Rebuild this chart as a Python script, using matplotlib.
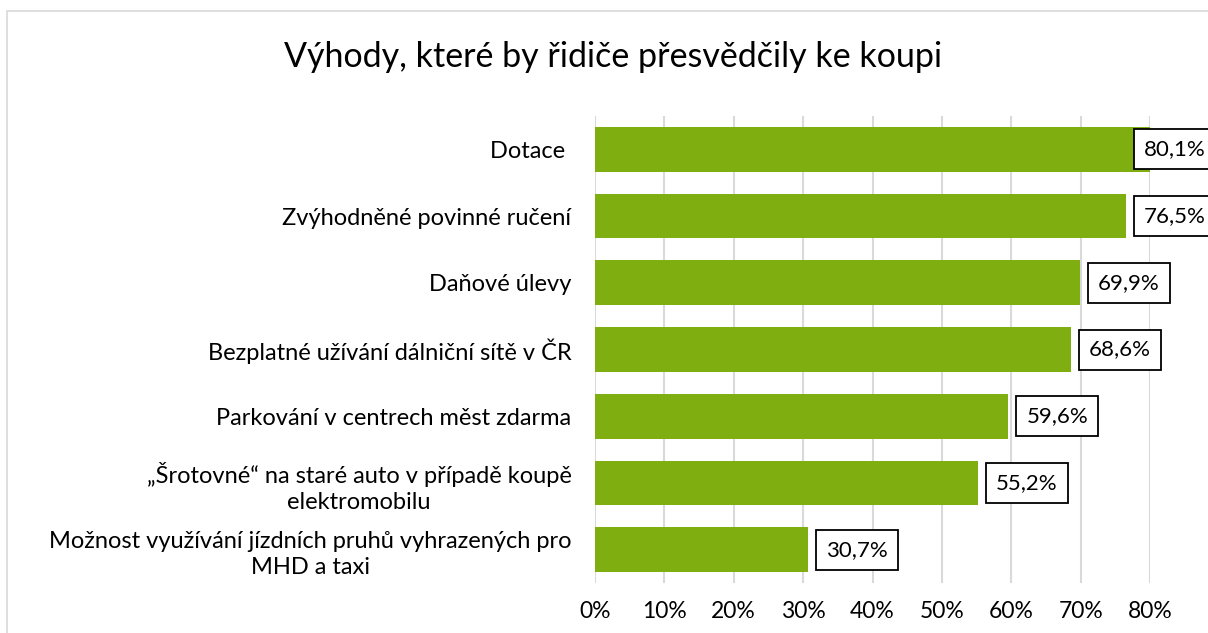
import matplotlib
matplotlib.use("Agg")
import matplotlib.pyplot as plt
from matplotlib.patches import Rectangle

plt.rcParams['font.family'] = ['Lato', 'DejaVu Sans']

# data
categories = [
    "Dotace ",
    "Zvýhodněné povinné ručení",
    "Daňové úlevy",
    "Bezplatné užívání dálniční sítě v ČR",
    "Parkování v centrech měst zdarma",
    "„Šrotovné“ na staré auto v případě koupě\nelektromobilu",
    "Možnost využívání jízdních pruhů vyhrazených pro\nMHD a taxi",
]
values = [80.1, 76.5, 69.9, 68.6, 59.6, 55.2, 30.7]
labels = ["80,1%", "76,5%", "69,9%", "68,6%", "59,6%", "55,2%", "30,7%"]
xticks = [0, 10, 20, 30, 40, 50, 60, 70, 80]
xticklabels = [f"{t}%" for t in xticks]

W, H = 1208, 633
fig = plt.figure(figsize=(W / 100, H / 100), dpi=100)

# chart frame (only left/top visible in the crop)
fig.patches.append(Rectangle((7 / W, -0.1), 1.2, (H - 11) / H + 0.1, transform=fig.transFigure,
                             fill=False, edgecolor='#d9d9d9', lw=1.2))

ax = fig.add_axes([595 / W, 1 - 583 / H, (1150 - 595) / W, (583 - 116) / H])
ypos = list(range(len(categories)))
ax.barh(ypos, values, height=0.67, color='#7FAE11', zorder=2)
ax.set_xlim(0, 80)
ax.set_ylim(len(categories) - 0.5, -0.5)

ax.set_xticks(xticks)
ax.set_xticklabels(xticklabels, fontsize=16.5)
ax.set_yticks(ypos)
ax.set_yticklabels(categories, fontsize=17, linespacing=1.3)
for lab in ax.get_yticklabels():
    lab.set_multialignment('center')
ax.tick_params(axis='both', length=0, colors='black')
ax.tick_params(axis='x', pad=13)
ax.tick_params(axis='y', pad=17)
ax.grid(axis='x', color='#d9d9d9', lw=1.5, zorder=0)
for s in ax.spines.values():
    s.set_visible(False)

# data labels in boxes
fs = 16
padpx = 0.45 * fs * 100 / 72
for i, (v, t) in enumerate(zip(values, labels)):
    if v > 78:
        xy, off = (80, i), -16 + padpx
    else:
        xy, off = (v, i), 8 + padpx
    ax.annotate(t, xy=xy, xytext=(off * 0.72, 0), textcoords='offset points',
                ha='left', va='center', fontsize=fs, annotation_clip=False,
                bbox=dict(boxstyle='square,pad=0.45', fc='white', ec='black', lw=1.3),
                zorder=5)

fig.text(613 / W, 1 - 57 / H, "Výhody, které by řidiče přesvědčily ke koupi",
         ha='center', va='center', fontsize=24.5)

fig.savefig("out.png", dpi=100)
